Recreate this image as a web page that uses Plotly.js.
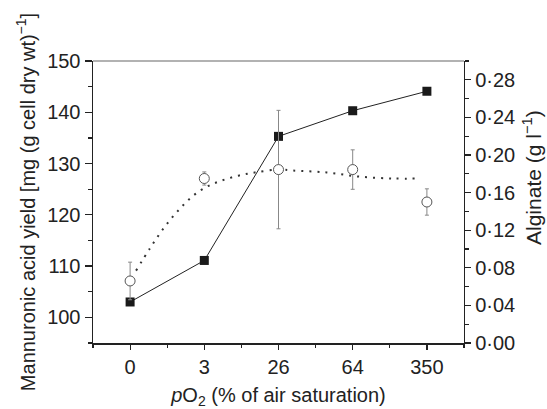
<!DOCTYPE html>
<html>
<head>
<meta charset="utf-8">
<script src="https://cdn.plot.ly/plotly-3.0.1.min.js"></script>
<style>html,body{margin:0;padding:0;background:#fff}#chart{width:547px;height:409px}</style>
</head>
<body>
<div id="chart"></div>
<script>
// Categories of pO2 (% of air saturation)
var categories = ["0", "3", "26", "64", "350"];
var catPos = [0, 1, 2, 3, 4];

// Mannuronic acid yield [mg (g cell dry wt)^-1] (filled squares, left axis)
var mannuronicYield = [103.0, 111.1, 135.3, 140.3, 144.1];

// Alginate (g l^-1) (open circles, right axis)
var alginate = [0.066, 0.175, 0.1845, 0.1845, 0.150];
var alginateErr = [0.020, 0.007, 0.063, 0.021, 0.014];

// Fitted dotted curve for alginate
var curveX = [0.08, 0.27, 0.47, 0.65, 0.84, 1.04, 1.24, 1.46, 1.68, 2.0, 2.19, 2.65, 3.09, 3.54, 3.9];
var curveY = [0.077, 0.101, 0.124, 0.141, 0.156, 0.1665, 0.173, 0.178, 0.1814, 0.1845, 0.1835, 0.1814, 0.177, 0.175, 0.175];

// Tick labels
var leftTicks = [100, 110, 120, 130, 140, 150];
var rightTickVals = [0, 0.04, 0.08, 0.12, 0.16, 0.20, 0.24, 0.28];
var rightTickText = ["0·00", "0·04", "0·08", "0·12", "0·16", "0·20", "0·24", "0·28"];

var font = {family: "Liberation Sans, Arial, Helvetica, sans-serif", size: 20, color: "#222"};

var traces = [
  {
    x: curveX, y: curveY, yaxis: "y2", mode: "lines",
    line: {color: "#333", width: 2, dash: "2px,6px", shape: "spline", smoothing: 1},
    hoverinfo: "skip"
  },
  {
    x: catPos, y: mannuronicYield, mode: "lines+markers",
    line: {color: "#222", width: 1},
    marker: {symbol: "square", size: 9, color: "#1a1a1a"}
  },
  {
    x: catPos, y: alginate, yaxis: "y2", mode: "markers",
    marker: {symbol: "circle", size: 10, color: "#fff", line: {color: "#555", width: 1}},
    error_y: {type: "data", array: alginateErr, visible: true, color: "#888", thickness: 1, width: 2}
  }
];

var layout = {
  width: 547, height: 409,
  margin: {l: 93, r: 83, t: 61, b: 66},
  paper_bgcolor: "#fff", plot_bgcolor: "#fff",
  showlegend: false,
  font: font,
  xaxis: {
    range: [-0.5, 4.5], tickmode: "array", tickvals: catPos, ticktext: categories,
    showgrid: false, zeroline: false, showline: true, linecolor: "#222", linewidth: 1.5,
    ticks: "outside", ticklen: 5, tickwidth: 1.2, tickcolor: "#222",
    minor: {tickmode: "linear", tick0: 0.5, dtick: 1, ticks: "outside", ticklen: 3, tickcolor: "#222", showgrid: false},
    tickfont: font,
    title: {text: "<i>p</i>O<sub>2</sub> (% of air saturation)", font: font, standoff: 14}
  },
  yaxis: {
    range: [95, 150], tickmode: "array", tickvals: leftTicks,
    showgrid: false, zeroline: false, showline: true, linecolor: "#222", linewidth: 1.5,
    ticks: "outside", ticklen: 7, tickwidth: 1.2, tickcolor: "#222",
    minor: {dtick: 5, tick0: 95, ticks: "outside", ticklen: 4, tickcolor: "#222", showgrid: false},
    tickfont: font,
    title: {text: "Mannuronic acid yield [mg (g cell dry wt)<sup>−1</sup>]", font: font, standoff: 6}
  },
  yaxis2: {
    overlaying: "y", side: "right", range: [0, 0.30],
    tickmode: "array", tickvals: rightTickVals, ticktext: rightTickText,
    showgrid: false, zeroline: false, showline: true, linecolor: "#222", linewidth: 1.2,
    ticks: "outside", ticklen: 6, tickwidth: 1.2, tickcolor: "#222",
    minor: {dtick: 0.02, tick0: 0, ticks: "outside", ticklen: 4, tickcolor: "#222", showgrid: false},
    tickfont: font
  },
  annotations: [
    {text: "Alginate (g l<sup>−1</sup>)", xref: "paper", yref: "paper", x: 1, y: 0.5,
     xanchor: "center", yanchor: "middle", xshift: 68, yshift: 24, textangle: -90,
     showarrow: false, font: {family: font.family, size: 21, color: "#222"}}
  ],
  shapes: [
    {type: "line", xref: "paper", yref: "paper", x0: 0, x1: 1, y0: 1, y1: 1, line: {color: "#999", width: 1.5}}
  ]
};

Plotly.newPlot("chart", traces, layout, {displayModeBar: false, staticPlot: true});
</script>
</body>
</html>
